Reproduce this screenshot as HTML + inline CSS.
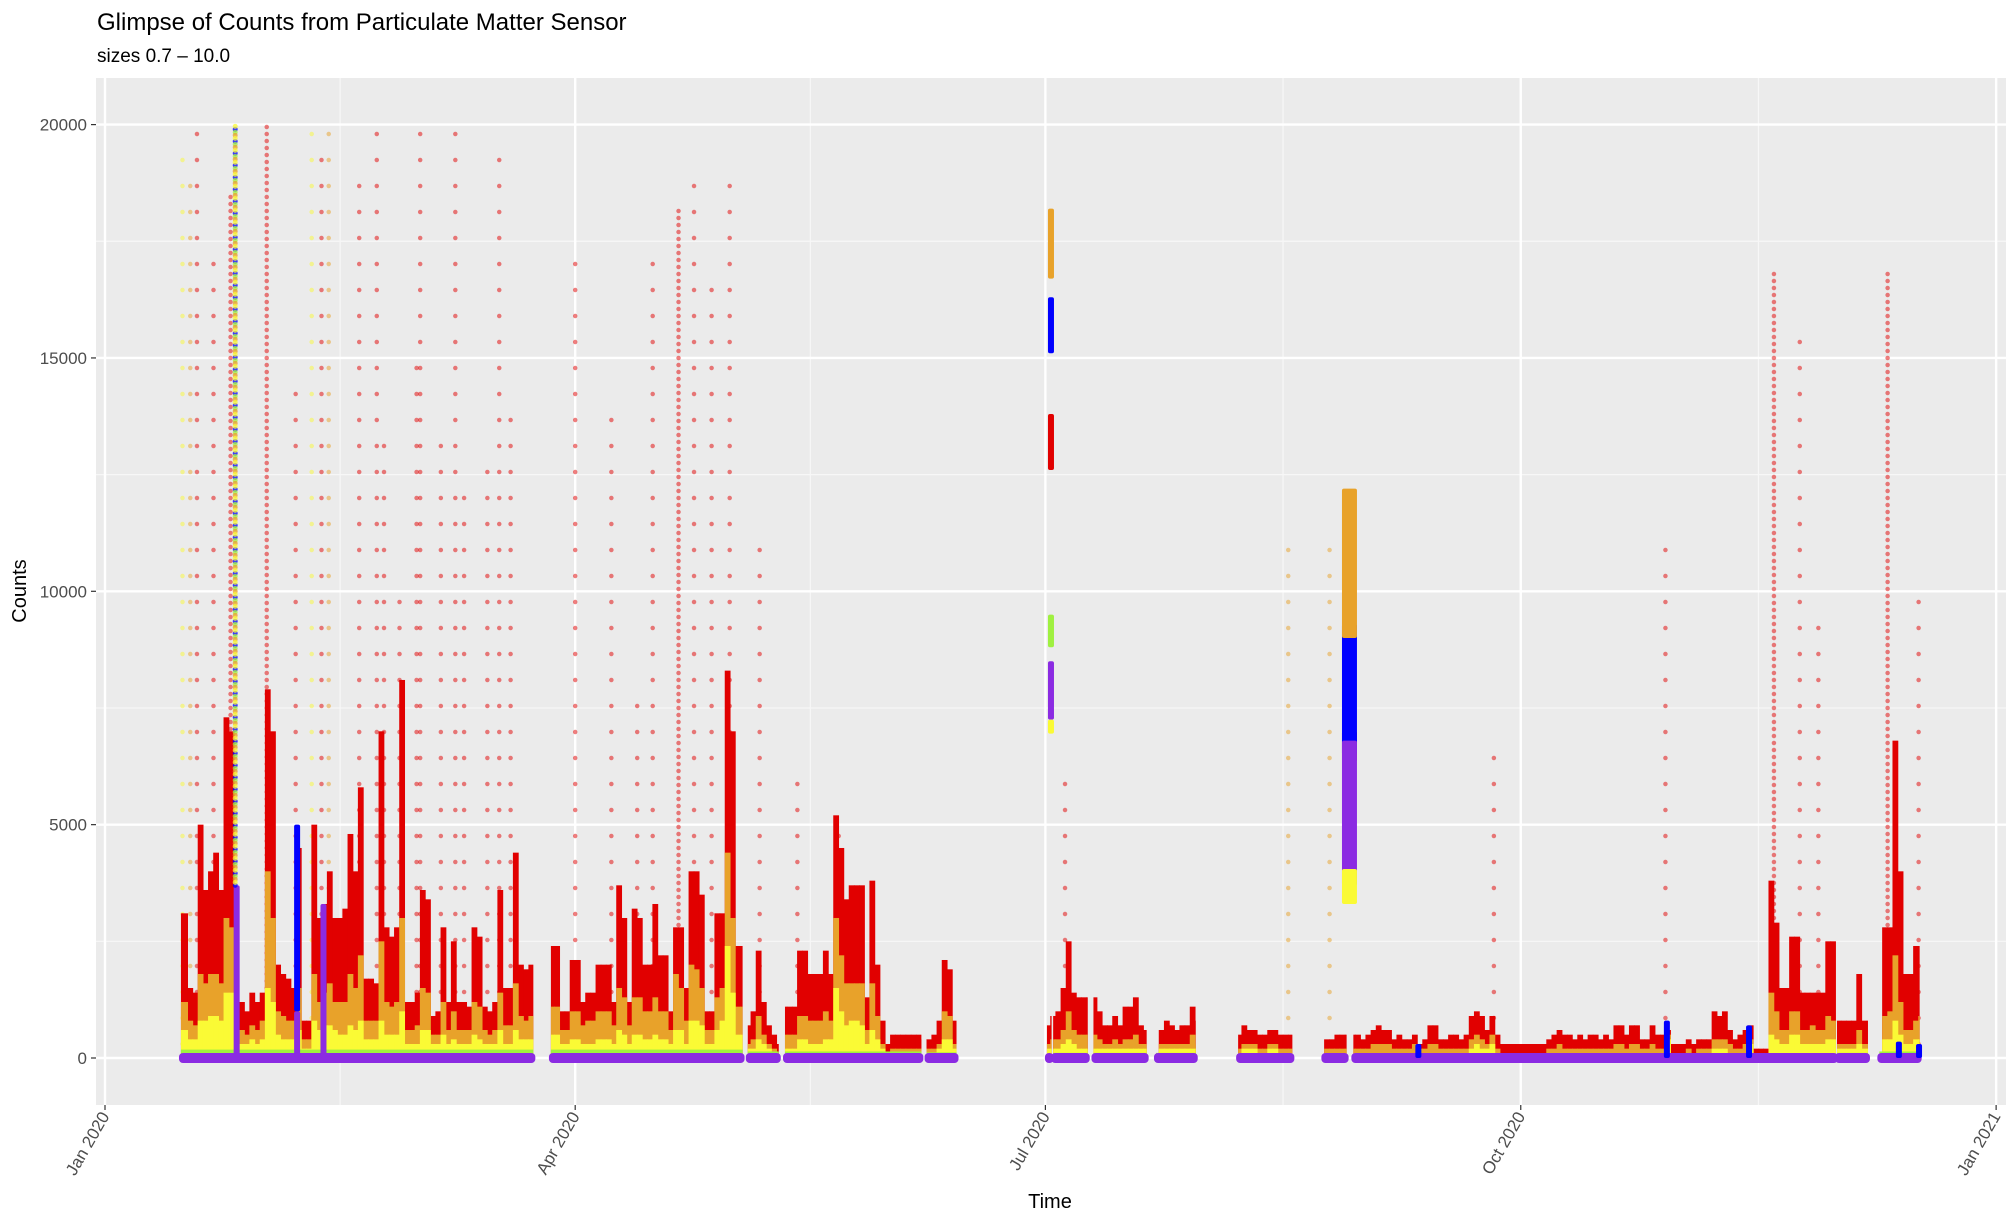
<!DOCTYPE html>
<html><head><meta charset="utf-8">
<style>
html,body{margin:0;padding:0;background:#fff;}
svg{display:block;font-family:"Liberation Sans",Arial,sans-serif;}
</style></head>
<body>
<svg id="chart" width="2016" height="1224" viewBox="0 0 2016 1224" xmlns="http://www.w3.org/2000/svg">
<text x="97" y="30" font-size="24" fill="#000">Glimpse of Counts from Particulate Matter Sensor</text>
<text x="97" y="62" font-size="19" fill="#000">sizes 0.7 – 10.0</text>
<rect x="96" y="78" width="1910" height="1027" fill="#ebebeb"/>
<g id="grid"></g>
<g id="marks"></g>
<g id="axes"></g>
<text x="1050" y="1208" font-size="20" text-anchor="middle" fill="#000">Time</text>
<text transform="translate(26,591) rotate(-90)" font-size="20" text-anchor="middle" fill="#000">Counts</text>
</svg>
<script>
// ---- data (counts in hundreds, one value per day starting at firstDay) ----
const firstDay = 14;
const redTop = [31,31,15,14,50,36,40,44,36,73,70,12,12,10,14,12,14,79,70,20,18,17,15,45,8,8,50,30,33,40,30,30,32,48,40,58,17,17,16,70,28,26,28,81,12,12,14,36,34,9,10,28,12,25,12,12,11,28,26,11,10,12,36,15,15,44,20,19,20,
0,0,0,
24,24,10,10,21,21,12,14,14,20,20,20,12,37,30,12,32,30,20,20,33,22,22,10,28,28,15,40,40,35,10,10,31,31,83,70,24,24,
7,10,23,12,7,5,3,
11,11,11,23,23,18,18,18,23,18,52,45,34,37,37,37,13,38,20,8,3,5,5,5,5,5,5,4,
4,5,8,21,19,8,
0,0,0,0,0,0,0,0,0,0,0,0,0,0,0,0,0,
7,9,10,15,25,14,13,13,13,
13,10,7,7,9,7,11,11,13,7,6,
0,0,
6,8,7,6,7,7,11,8,
0,0,0,0,0,0,0,
5,7,6,6,5,5,6,6,5,5,5,
0,0,0,0,0,0,
4,4,5,5,5,
5,5,4,5,6,7,6,6,4,5,4,4,5,3,4,7,7,4,4,5,5,4,5,9,10,9,6,9,5,3,3,3,3,3,3,3,3,3,4,5,6,5,5,4,5,4,5,5,4,5,4,7,7,5,7,7,4,4,7,5,5,6,3,3,3,4,3,4,4,4,10,9,10,6,4,5,6,7,2,2,2,38,29,15,15,26,26,14,14,14,14,14,25,25,
8,8,8,8,18,8,8,
0,0,
28,28,68,40,18,18,24,24];
const orangeTop = [12,12,8,7,18,16,18,18,16,30,28,6,6,5,7,6,8,40,30,10,9,8,8,15,4,4,18,12,14,16,12,12,12,18,15,22,8,8,8,25,12,11,12,30,6,6,7,15,14,5,5,12,6,10,6,6,6,12,11,6,5,6,14,7,7,16,9,8,9,
0,0,0,
11,11,6,6,10,10,7,8,8,10,10,10,7,15,13,7,13,13,10,10,13,10,10,6,18,15,8,20,19,15,6,6,13,15,44,30,11,11,
3,4,9,5,3,2,1,
5,5,5,9,9,8,8,8,10,8,30,22,16,16,16,16,6,16,9,3,1,2,2,2,2,2,2,2,
2,2,3,10,9,3,
0,0,0,0,0,0,0,0,0,0,0,0,0,0,0,0,0,
3,4,4,6,10,6,5,5,5,
5,4,3,3,4,3,4,4,5,3,3,
0,0,
3,3,3,3,3,3,5,3,
0,0,0,0,0,0,0,
2,3,3,3,2,2,3,3,2,2,2,
0,0,0,0,0,0,
2,2,2,2,2,
2,2,2,2,3,3,3,3,2,2,2,2,3,2,2,3,3,2,2,2,2,2,2,4,5,4,3,5,2,1,1,1,1,1,1,1,1,1,2,2,3,2,2,2,2,2,2,2,2,2,2,3,3,2,3,3,2,2,3,2,2,5,1,1,1,2,1,2,2,2,4,4,4,3,2,2,3,4,1,1,1,14,10,6,6,10,10,6,6,7,6,6,9,8,
3,3,3,3,6,3,3,
0,0,
9,10,22,12,6,6,8,9];
const yellowTop = [6,6,4,4,8,8,9,9,8,14,14,3,3,3,4,3,4,15,12,5,4,4,4,6,2,2,8,6,7,7,6,5,5,7,6,8,4,4,4,8,5,5,5,10,3,3,3,6,6,3,3,5,3,4,3,3,3,5,4,3,3,3,6,3,3,6,4,4,4,
0,0,0,
5,5,3,3,4,4,3,3,3,4,4,4,3,6,5,3,5,5,4,4,5,4,4,3,6,6,3,8,8,7,3,3,6,8,24,14,5,5,
2,2,4,3,2,1,1,
2,2,2,4,4,3,3,3,4,4,15,10,7,8,8,7,3,6,4,2,1,1,1,1,1,1,1,1,
1,1,2,4,4,2,
0,0,0,0,0,0,0,0,0,0,0,0,0,0,0,0,0,
2,2,2,3,4,3,2,2,2,
2,2,2,2,2,2,2,2,2,2,2,
0,0,
2,2,2,2,2,2,2,2,
0,0,0,0,0,0,0,
1,2,2,2,1,1,2,2,1,1,1,
0,0,0,0,0,0,
1,1,1,1,1,
1,1,1,1,1,1,1,1,1,1,1,1,1,1,1,1,1,1,1,1,1,1,1,2,3,2,2,3,1,1,1,1,1,1,1,1,1,1,1,1,1,1,1,1,1,1,1,1,1,1,1,1,1,1,1,1,1,1,1,1,1,4,1,1,1,1,1,1,1,1,2,2,2,1,1,1,1,3,1,1,1,5,4,3,3,5,5,3,3,3,3,3,4,4,
2,2,2,2,3,2,2,
0,0,
4,4,8,5,3,3,4,4];
// measurement segments (day of year), green / blue levels (hundreds)
const segStart = [14.7,86.3,124.4,131.6,159.0,182.3,183.5,191.3,203.4,219.3,235.8,241.6,335.2,343.4];
const segEnd   = [82.9,123.4,130.4,158.0,164.8,183.2,190.2,201.6,211.1,229.8,240.3,335.0,341.2,351.2];
const segGreen = [1.8,1.8,1.4,1.4,1.2,0.9,1.1,1.1,1.1,0.9,0.9,0.9,1.1,1.4];
const segBlue  = [0.9,0.9,0.7,0.7,0.7,0.5,0.6,0.7,0.7,0.5,0.5,0.5,0.6,0.7];
// scattered outlier columns: day, top count, colour code
const colDays  = [15,16.5,17.8,21,24.3,31.3,36.9,40,41.9,43.3,49.2,52.6,54,57,60.3,61,65,67.8,69.5,74,76.3,78.5,91,98,103,106,111,114,117.4,120.9,126.7,134,142,185.8,229,237,268.8,302,323,328,331.6,345,351];
const colTops  = [19400,19000,20000,17200,18500,20000,14500,19800,19700,19900,18700,19800,13500,10000,15300,19900,13500,19900,12000,13000,19600,13700,17400,13700,7700,17400,18200,18900,16600,18800,11000,5900,5000,6300,11000,11400,6800,11400,16800,15700,9500,16900,10100];
const colColor = ['y','o','r','r','r','r','r','y','r','o','r','r','r','r','r','r','r','r','r','r','r','r','r','r','r','r','r','r','r','r','r','r','r','r','o','o','r','r','r','r','r','r','r'];
const colDense = [0,0,0,0,1,1,0,0,0,0,0,0,0,0,0,0,0,0,0,0,0,0,0,0,0,0,1,0,0,0,0,0,0,0,0,0,0,0,1,0,0,1,0];
// special solid clusters: start day, end day, from count, to count, colour
const stripStart = [24.9,24.9,36.6,36.6,41.7,182.5,182.5,182.5,182.5,182.5,182.5,239.4,239.4,239.4,239.4,239.4,301.7,317.6,253.6,346.6,350.5];
const stripEnd   = [25.5,25.5,37.2,37.2,42.3,183.1,183.1,183.1,183.1,183.1,183.1,242.3,242.3,242.3,242.3,242.3,302.3,318.2,254.1,347.1,351.0];
const stripFrom  = [0,3700,0,1000,0,16700,15100,12600,8800,7250,6950,6350,6500,9000,3700,3300,0,0,0,0,0];
const stripTo    = [3700,20000,1000,5000,3300,18200,16300,13800,9500,8500,7250,7000,9300,12200,6800,4050,800,700,300,350,300];
const stripColor = ['p','b','p','b','p','o','b','r','g','p','y','r','b','o','p','y','b','b','b','b','b'];
// axis ticks
const yTicks = [0,5000,10000,15000,20000];
const yMinor = [2500,7500,12500,17500];
const xTickDays = [0,91,182,274,366];
const xTickLabels = ['Jan 2020','Apr 2020','Jul 2020','Oct 2020','Jan 2021'];
const xMinorDays = [45.5,136.5,228,320];

// ---- scales ----
const X = d => 105 + d * 5.167;
const Y = c => 1058 - c * 0.04667;
const COL = {r:'#e10000',o:'#e8a22a',y:'#fafa35',g:'#9ff040',b:'#0000ff',p:'#8b2be2'};
const NS = 'http://www.w3.org/2000/svg';
function mk(tag, attrs, parent){const e=document.createElementNS(NS,tag);for(const k in attrs)e.setAttribute(k,attrs[k]);parent.appendChild(e);return e;}

const grid = document.getElementById('grid');
yMinor.forEach(v=>{const l=mk('line',{x1:96,x2:2006,y1:Y(v),y2:Y(v),stroke:'#f7f7f7','stroke-width':1.2},grid);

});
xMinorDays.forEach(v=>{const l=mk('line',{x1:X(v),x2:X(v),y1:78,y2:1105,stroke:'#f7f7f7','stroke-width':1.2},grid);

});
yTicks.forEach(v=>{const l=mk('line',{x1:96,x2:2006,y1:Y(v),y2:Y(v),stroke:'#fff','stroke-width':2.4},grid);

});
xTickDays.forEach(v=>{const l=mk('line',{x1:X(v),x2:X(v),y1:78,y2:1105,stroke:'#fff','stroke-width':2.4},grid);

});

const marks = document.getElementById('marks');
const defs = mk('defs',{},marks);
const cp = mk('clipPath',{id:'segclip'},defs);
segStart.forEach((s,i)=>{mk('rect',{x:X(s),y:0,width:X(segEnd[i])-X(s),height:1224},cp);});

// outlier columns (dotted vertical runs of points)
colDays.forEach((d,i)=>{
  const l=mk('line',{x1:X(d),x2:X(d),y1:Y(300),y2:Y(colTops[i]),stroke:COL[colColor[i]],'stroke-opacity':0.5,'stroke-width':4.5,'stroke-linecap':'round','stroke-dasharray':colDense[i]?'0 7':'0 26'},marks);
  
  
});

// stacked daily envelopes
const bars = mk('g',{'clip-path':'url(#segclip)'},marks);


const series = [['r',redTop],['o',orangeTop],['y',yellowTop]];
series.forEach(([c,arr])=>{
  arr.forEach((v,i)=>{
    if(!v) return;
    const d = firstDay + i;
    const r=mk('rect',{x:X(d)-0.3,y:Y(v*100),width:5.8,height:Y(0)-Y(v*100),fill:COL[c]},bars);
    
    
  });
});
// green / blue / purple bands per segment
segStart.forEach((s,i)=>{
  const w = X(segEnd[i])-X(s);
  const g=mk('rect',{x:X(s),y:Y(segGreen[i]*100),width:w,height:Y(0)-Y(segGreen[i]*100),fill:COL.g},marks);
  
  
  const b=mk('rect',{x:X(s),y:Y(segBlue[i]*100),width:w,height:Y(0)-Y(segBlue[i]*100),fill:COL.b},marks);
  
  
  const p=mk('rect',{x:X(s)-2,y:Y(0)-5,width:w+4,height:10,rx:4,fill:COL.p},marks);
  
  
});
// special clusters
stripStart.forEach((s,i)=>{
  const dotted = stripColor[i]==='b' && stripTo[i]>=20000;
  if(dotted){
    ['b','g','o','y'].forEach((c,k)=>{
      const l=mk('line',{x1:X((s+stripEnd[i])/2),x2:X((s+stripEnd[i])/2),y1:Y(stripFrom[i]),y2:Y(stripTo[i]),stroke:COL[c],'stroke-opacity':0.75,'stroke-width':5,'stroke-linecap':'round','stroke-dasharray':'0 12','stroke-dashoffset':k*3},marks);
      
      
    });
    return;
  }
  const w = Math.max(6,X(stripEnd[i])-X(s));
  const r=mk('rect',{x:X(s),y:Y(stripTo[i]),width:w,height:Y(stripFrom[i])-Y(stripTo[i]),fill:COL[stripColor[i]],rx:2},marks);
  
  
});

// axes
const axes = document.getElementById('axes');
yTicks.forEach(v=>{
  const t=mk('line',{x1:91,x2:96,y1:Y(v),y2:Y(v),stroke:'#333','stroke-width':1.2},axes);
  
  
  const tx=mk('text',{x:87,y:Y(v)+6,'font-size':17,'text-anchor':'end',fill:'#4d4d4d'},axes);
  tx.textContent=String(v);
  
  
});
xTickDays.forEach((v,i)=>{
  const t=mk('line',{x1:X(v),x2:X(v),y1:1105,y2:1110,stroke:'#333','stroke-width':1.2},axes);
  
  
  const tx=mk('text',{transform:'translate('+(X(v)+5)+',1116) rotate(-60)','font-size':17,'text-anchor':'end',fill:'#4d4d4d'},axes);
  tx.textContent=xTickLabels[i];
  
  
});
</script>
</body></html>
